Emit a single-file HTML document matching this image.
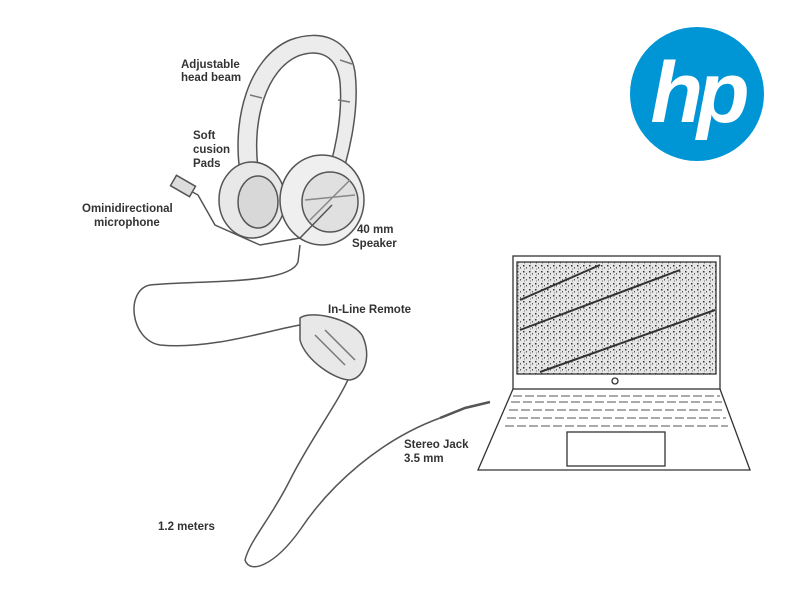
<!DOCTYPE html>
<html><head><style>
body{margin:0;background:#fff;width:800px;height:600px;overflow:hidden}
text{font-family:"Liberation Sans",sans-serif;font-weight:bold;font-size:11.5px;fill:#333}
</style></head><body>
<svg width="800" height="600" viewBox="0 0 800 600" xmlns="http://www.w3.org/2000/svg">
<defs>
<pattern id="sp" width="6" height="6" patternUnits="userSpaceOnUse">
<rect width="6" height="6" fill="#e6e6e6"/>
<rect x="1" y="1" width="1.5" height="1.5" fill="#333"/>
<rect x="4" y="3" width="1" height="1.5" fill="#555"/>
<rect x="2" y="4.5" width="1" height="1" fill="#777"/>
</pattern>
</defs>
<rect width="800" height="600" fill="#fff"/>
<!-- HP logo -->
<circle cx="697" cy="94" r="67" fill="#0096d6"/>
<text x="697" y="122" text-anchor="middle" style="font-size:86px;font-style:italic;fill:#fff;font-weight:bold;letter-spacing:-6px">hp</text>
<!-- headset -->
<g fill="none" stroke="#555" stroke-width="1.5">
<path d="M240 172 C232 120 248 58 290 40 C322 28 350 40 355 72 C360 112 348 160 337 190 L323 188 C334 158 343 118 340 82 C337 56 320 48 298 56 C266 70 252 120 258 168 Z" fill="#ececec"/>
<path d="M250 95 L262 98 M340 60 L352 64 M338 100 L350 102" stroke="#777"/>
<ellipse cx="252" cy="200" rx="33" ry="38" fill="#e8e8e8"/>
<ellipse cx="258" cy="202" rx="20" ry="26" fill="#d8d8d8"/>
<ellipse cx="322" cy="200" rx="42" ry="45" fill="#efefef"/>
<ellipse cx="330" cy="202" rx="28" ry="30" fill="#e0e0e0"/>
<path d="M305 200 L355 195 M310 220 L350 180" stroke="#888"/>
<path d="M185 188 L198 195 L215 225 L260 245 L300 238 L332 205"/>
<rect x="172" y="180" width="22" height="12" transform="rotate(30 183 186)" fill="#ddd"/>
<path d="M300 245 L298 262 C290 285 200 280 150 285 C125 290 130 340 160 345 C210 350 270 330 300 325"/>
<path d="M350 375 C340 400 310 440 290 480 C270 520 250 540 245 560 C250 575 275 565 300 530 C330 485 380 440 440 418"/>
<path d="M300 318 C310 310 350 318 362 335 C372 355 365 378 350 380 C335 380 305 360 300 340 Z" fill="#e8e8e8"/>
<path d="M315 335 L345 365 M325 330 L355 360" stroke="#777"/>
<path d="M440 418 L465 408 L490 402" stroke-width="2.5"/>
</g>
<!-- laptop -->
<g fill="none" stroke="#333" stroke-width="1.3">
<rect x="513" y="256" width="207" height="133" fill="#fff"/>
<rect x="517" y="262" width="199" height="112" fill="url(#sp)"/>
<path d="M520 300 L600 265 M520 330 L680 270 M540 372 L715 310" stroke="#333" stroke-width="2"/>
<circle cx="615" cy="381" r="3"/>
<path d="M513 389 L478 470 L750 470 L720 389"/>
<rect x="567" y="432" width="98" height="34"/>
</g>
<g fill="#fff" stroke="#555" stroke-width="0.9">
<path d="M513 396 h207 M511 402 h211 M509 410 h215 M507 418 h219 M505 426 h223" stroke-dasharray="9 3"/>
</g>
<!-- labels -->
<text x="181" y="68">Adjustable</text><text x="181" y="81">head beam</text>
<text x="193" y="139">Soft</text><text x="193" y="153">cusion</text><text x="193" y="167">Pads</text>
<text x="82" y="212">Ominidirectional</text><text x="94" y="226">microphone</text>
<text x="357" y="233">40 mm</text><text x="352" y="247">Speaker</text>
<text x="328" y="313">In-Line Remote</text>
<text x="404" y="448">Stereo Jack</text><text x="404" y="462">3.5 mm</text>
<text x="158" y="530">1.2 meters</text>
</svg>
</body></html>
